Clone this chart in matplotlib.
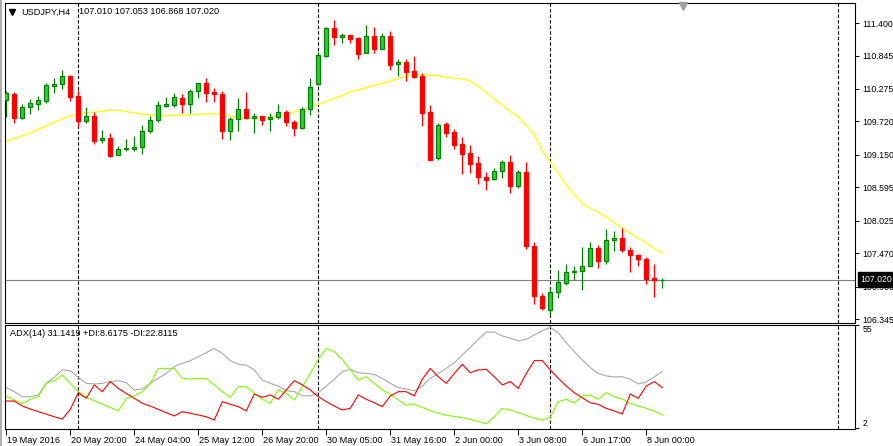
import matplotlib
matplotlib.use('Agg')
import matplotlib.pyplot as plt
from matplotlib.lines import Line2D
from matplotlib.transforms import ScaledTranslation, blended_transform_factory
import numpy as np

plt.rcParams['font.family'] = ['Liberation Sans', 'DejaVu Sans']

# ---------------- data ----------------
symbol = "USDJPY,H4"
header_values = "107.010 107.053 106.868 107.020"
adx_header = "ADX(14) 31.1419 +DI:8.6175 -DI:22.8115"
bid_price = 107.020

opens = [110.088, 110.190, 109.786, 109.973, 110.014, 110.071, 110.331, 110.355, 110.497, 110.156,
         109.735, 109.815, 109.401, 109.435, 109.145, 109.241, 109.252, 109.281, 109.554, 109.742,
         109.990, 109.997, 110.117, 110.014, 110.236, 110.372, 110.224, 110.190, 109.564, 109.759,
         109.929, 109.786, 109.810, 109.759, 109.793, 109.878, 109.713, 109.610, 109.929, 110.355,
         110.843, 111.310, 111.156, 111.195, 111.144, 110.884, 111.178, 110.952, 111.178, 110.696,
         110.735, 110.582, 110.502, 109.883, 109.087, 109.679, 109.542, 109.338, 109.184, 109.014,
         108.770, 108.729, 108.869, 109.026, 108.610, 108.855, 107.599, 106.747, 106.496, 106.810,
         106.963, 107.144, 107.168, 107.253, 107.560, 107.339, 107.696, 107.730, 107.531, 107.446,
         107.378, 107.054, 107.010]
highs = [110.241, 110.219, 110.019, 110.100, 110.156, 110.382, 110.457, 110.599, 110.519, 110.258,
         109.963, 109.888, 109.576, 109.520, 109.304, 109.423, 109.474, 109.661, 109.815, 110.076,
         110.139, 110.207, 110.185, 110.280, 110.380, 110.468, 110.292, 110.241, 109.793, 110.122,
         110.219, 109.861, 109.815, 109.871, 110.019, 109.917, 109.747, 109.973, 110.457, 110.906,
         111.337, 111.451, 111.235, 111.200, 111.156, 111.366, 111.332, 111.224, 111.264, 110.792,
         110.781, 110.838, 110.543, 110.002, 109.701, 109.718, 109.593, 109.457, 109.321, 109.133,
         108.860, 108.929, 109.065, 109.150, 108.889, 109.026, 107.667, 106.793, 106.888, 107.190,
         107.292, 107.258, 107.570, 107.667, 107.616, 107.889, 107.855, 107.901, 107.577, 107.463,
         107.400, 107.292, 107.053]
lows = [109.798, 109.701, 109.769, 109.849, 109.917, 110.042, 110.212, 110.280, 110.076, 109.633,
        109.701, 109.326, 109.350, 109.104, 109.140, 109.218, 109.218, 109.172, 109.520, 109.713,
        109.968, 109.968, 109.871, 109.871, 110.117, 110.054, 110.054, 109.428, 109.406, 109.564,
        109.759, 109.530, 109.667, 109.564, 109.759, 109.644, 109.474, 109.593, 109.832, 110.338,
        110.826, 111.030, 111.064, 111.054, 110.792, 110.880, 110.894, 110.950, 110.604, 110.502,
        110.417, 110.468, 109.650, 109.053, 109.053, 109.462, 109.252, 108.826, 108.838, 108.644,
        108.554, 108.724, 108.746, 108.497, 108.588, 107.543, 106.611, 106.508, 106.423, 106.701,
        106.929, 107.008, 106.837, 107.247, 107.212, 107.281, 107.502, 107.497, 107.144, 107.247,
        106.952, 106.718, 106.868]
closes = [110.202, 109.786, 109.963, 110.031, 110.082, 110.343, 110.360, 110.497, 110.144, 109.735,
          109.815, 109.394, 109.435, 109.133, 109.247, 109.269, 109.287, 109.554, 109.742, 109.997,
          110.014, 110.134, 110.014, 110.236, 110.372, 110.212, 110.195, 109.564, 109.759, 109.929,
          109.786, 109.810, 109.752, 109.793, 109.878, 109.708, 109.615, 109.929, 110.304, 110.849,
          111.310, 111.156, 111.195, 111.132, 110.877, 111.178, 110.952, 111.178, 110.689, 110.735,
          110.570, 110.485, 109.871, 109.065, 109.661, 109.530, 109.321, 109.167, 108.997, 108.763,
          108.724, 108.872, 109.026, 108.610, 108.855, 107.587, 106.735, 106.531, 106.810, 106.980,
          107.151, 107.173, 107.253, 107.560, 107.332, 107.696, 107.730, 107.519, 107.434, 107.366,
          107.037, 107.015, 107.020]
moving_avg = [109.377, 109.426, 109.477, 109.527, 109.583, 109.644, 109.704, 109.765, 109.815, 109.840,
              109.869, 109.878, 109.895, 109.914, 109.909, 109.888, 109.866, 109.844, 109.832, 109.823,
              109.815, 109.823, 109.827, 109.835, 109.844, 109.849, 109.849, 109.844, 109.815, 109.784,
              109.777, 109.776, 109.784, 109.798, 109.823, 109.858, 109.883, 109.917, 109.960, 110.011,
              110.062, 110.117, 110.164, 110.224, 110.258, 110.297, 110.335, 110.372, 110.411, 110.454,
              110.488, 110.517, 110.522, 110.509, 110.497, 110.471, 110.459, 110.440, 110.411, 110.316,
              110.215, 110.105, 109.994, 109.892, 109.798, 109.653, 109.491, 109.218, 109.031, 108.835,
              108.639, 108.468, 108.315, 108.238, 108.168, 108.082, 107.991, 107.896, 107.811, 107.724,
              107.644, 107.555, 107.471]
adx = [22.9, 20.7, 18.1, 18.1, 19.0, 25.0, 28.1, 31.9, 31.5, 28.1,
       25.0, 24.7, 25.0, 25.9, 26.4, 25.3, 21.6, 22.1, 25.0, 27.6,
       30.1, 33.6, 35.3, 36.7, 38.7, 40.8, 43.0, 40.4, 36.7, 34.8,
       34.4, 31.9, 26.7, 25.0, 23.6, 21.2, 20.7, 18.6, 18.5, 20.2,
       23.6, 27.1, 31.0, 32.2, 30.5, 30.1, 29.6, 27.6, 25.0, 22.8,
       22.1, 21.1, 23.6, 27.6, 30.1, 32.7, 35.6, 39.6, 43.5, 47.6,
       51.4, 51.4, 49.4, 48.2, 46.9, 47.6, 49.9, 52.1, 53.8, 51.1,
       45.9, 41.3, 37.0, 33.1, 30.1, 28.8, 28.3, 28.4, 27.1, 24.7,
       25.7, 28.4, 31.1]
plus_di = [18.5, 16.4, 14.7, 16.8, 18.1, 25.0, 26.4, 29.3, 25.0, 20.7,
           17.8, 16.1, 14.4, 12.6, 10.8, 17.3, 18.5, 20.7, 25.0, 32.7,
           32.7, 32.7, 27.6, 27.2, 27.6, 27.4, 24.2, 20.7, 17.8, 23.3,
           23.3, 19.8, 16.8, 14.7, 21.6, 19.8, 16.4, 23.3, 30.1, 37.3,
           43.0, 41.3, 37.3, 31.9, 26.7, 28.4, 25.0, 21.6, 19.5, 16.4,
           13.8, 14.4, 12.6, 10.9, 9.6, 8.5, 8.0, 7.3, 6.5, 5.3,
           4.1, 7.8, 12.1, 11.3, 9.9, 8.5, 7.0, 6.1, 7.5, 15.6,
           16.8, 14.9, 18.5, 19.0, 16.8, 20.2, 18.1, 16.9, 14.7, 13.3,
           12.1, 10.8, 8.6]
minus_di = [15.9, 15.9, 13.3, 11.8, 10.4, 9.1, 7.8, 6.6, 11.6, 20.2,
            17.3, 24.2, 20.7, 25.9, 22.4, 19.8, 17.3, 14.7, 13.3, 11.6,
            9.9, 8.2, 10.4, 9.6, 8.7, 7.8, 6.1, 15.6, 14.2, 13.0,
            10.8, 19.5, 17.8, 19.0, 16.8, 21.6, 26.4, 24.2, 21.6, 18.1,
            15.6, 13.3, 11.3, 12.1, 19.0, 16.8, 15.0, 13.0, 18.5, 20.7,
            20.7, 18.5, 27.1, 32.7, 28.4, 25.0, 30.1, 34.8, 30.5, 31.9,
            32.2, 28.4, 24.2, 25.9, 22.4, 30.1, 36.7, 36.7, 31.9, 27.6,
            23.6, 20.2, 17.6, 15.0, 14.2, 12.1, 10.8, 9.2, 19.5, 17.3,
            23.6, 25.9, 22.8]
date_labels = ["19 May 2016", "20 May 20:00", "24 May 04:00", "25 May 12:00", "26 May 20:00",
               "30 May 05:00", "31 May 16:00", "2 Jun 00:00", "3 Jun 08:00", "6 Jun 17:00",
               "8 Jun 00:00"]
date_label_bars = [0, 8, 16, 24, 32, 40, 48, 56, 64, 72, 80]
separator_bars = [9, 39, 68, 104]
price_ticks = [111.400, 110.845, 110.275, 109.720, 109.150, 108.595, 108.025, 107.470, 106.900, 106.345]
adx_ticks = [2, 55]

# ---------------- figure ----------------
W, H = 893, 446
FS = 6.3
fig = plt.figure(figsize=(W / 100, H / 100), dpi=100)
fig.patch.set_facecolor('white')

def frect(x0, y0, x1, y1):
    return [x0 / W, 1 - y1 / H, (x1 - x0) / W, (y1 - y0) / H]

ax1 = fig.add_axes(frect(5, 2.5, 855, 322.5))
ax2 = fig.add_axes(frect(5, 324.5, 855, 429))

n = len(opens)
xb = np.arange(n)
o = np.array(opens); h = np.array(highs); l = np.array(lows); c = np.array(closes)
up = c >= o

xlim = (-0.16, 106.09)
for ax in (ax1, ax2):
    ax.set_xlim(*xlim)
    ax.set_facecolor('white')
    for s in ax.spines.values():
        s.set_color('black')
        s.set_linewidth(0.8)
    for sb in separator_bars:
        ax.axvline(sb, color='black', lw=0.8, linestyle=(0, (3, 2)), zorder=1)

# main chart
ax1.set_ylim(106.287, 111.750)
ax1.axhline(bid_price, color='#808080', lw=0.8, zorder=1)
ax1.plot(xb, moving_avg, color='#ffff00', lw=0.9, zorder=1.5)

for mask, wick_col, face, edge in [(up, '#008000', '#32cd32', '#008000'),
                                   (~up, '#ff0000', '#ff0000', '#ff0000')]:
    ax1.vlines(xb[mask], l[mask], h[mask], color=wick_col, lw=0.9, zorder=2)
    bottoms = np.minimum(o, c)[mask]
    heights = np.abs(c - o)[mask]
    ax1.bar(xb[mask], heights, bottom=bottoms, width=0.52, color=face,
            edgecolor=edge, linewidth=0.9, zorder=3)

ax1.yaxis.tick_right()
ax1.set_yticks(price_ticks)
ax1.set_yticklabels([f"{t:.3f}" for t in price_ticks])
ax1.tick_params(axis='y', length=3, width=0.7, pad=2.5, labelsize=FS, colors='black')
ax1.set_xticks([])

bt = blended_transform_factory(ax1.transAxes, ax1.transData) + ScaledTranslation(5.5 / 100, 0, fig.dpi_scale_trans)
ax1.text(1.0, bid_price, f"{bid_price:.3f}", transform=bt, ha='left', va='center', color='white',
         fontsize=FS, clip_on=False, zorder=20,
         bbox=dict(boxstyle='square,pad=0.3', fc='black', ec='black'))

# indicator
ax2.set_ylim(1.49, 55.3)
ax2.plot(xb, adx, color='#a9a9a9', lw=0.8, zorder=2)
ax2.plot(xb, plus_di, color='#7cfc00', lw=0.8, zorder=3)
ax2.plot(xb, minus_di, color='#ff0000', lw=0.8, zorder=4)
ax2.yaxis.tick_right()
ax2.set_yticks(adx_ticks)
ax2.set_yticklabels([str(t) for t in adx_ticks])
ax2.tick_params(axis='y', length=3, width=0.7, pad=2.5, labelsize=FS)
for lab, va in zip(ax2.get_yticklabels(), ['bottom', 'top']):
    lab.set_va(va)
ax2.set_xticks(date_label_bars)
ax2.set_xticklabels(date_labels, ha='left')
ax2.tick_params(axis='x', length=4, width=0.7, pad=1, labelsize=FS + 0.3)
for lab in ax2.get_xticklabels():
    lab.set_transform(lab.get_transform() + ScaledTranslation(1.2 / 100, 0, fig.dpi_scale_trans))

# header texts
fig.add_artist(Line2D([12 / W], [1 - 12 / H], marker='v', markersize=4, color='black',
                      transform=fig.transFigure, linestyle='none'))
fig.text(21 / W, 1 - 12 / H, symbol, fontsize=FS + 0.3, va='center', ha='left', color='black')
fig.text(79 / W, 1 - 12 / H, header_values, fontsize=FS + 0.3, va='center', ha='left', color='black')
fig.text(10 / W, 1 - 334 / H, adx_header, fontsize=FS + 0.3, va='center', ha='left', color='black')

# chart shift marker and window frame
fig.add_artist(Line2D([683 / W], [1 - 5.5 / H], marker='v', markersize=6, color='#a0a0a0',
                      transform=fig.transFigure, linestyle='none'))
fig.add_artist(Line2D([1.2 / W, 1.2 / W], [0, 1], color='#a0a0a0', lw=1.2, transform=fig.transFigure))

fig.savefig('out.png', dpi=100)
